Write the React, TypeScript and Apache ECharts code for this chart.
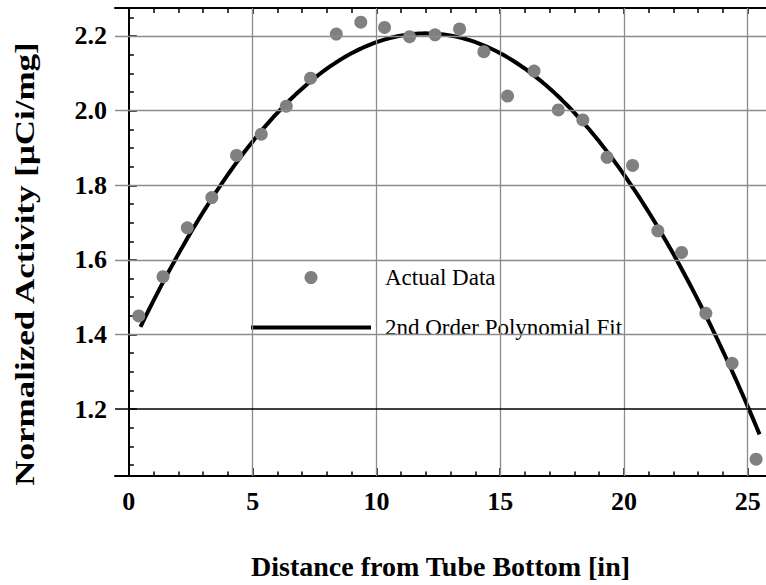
import React, { useEffect, useRef } from "react";
import * as echarts from "echarts";

// ---- data ----
const X_VALUES = [0.4, 1.38, 2.36, 3.35, 4.35, 5.35, 6.36, 7.34, 8.38, 9.37, 10.33, 11.34, 12.37, 13.36, 14.34, 15.3, 16.37, 17.35, 18.34, 19.32, 20.35, 21.37, 22.33, 23.31, 24.37, 25.34];
const Y_VALUES = [1.45, 1.555, 1.686, 1.767, 1.88, 1.937, 2.012, 2.087, 2.205, 2.237, 2.223, 2.198, 2.203, 2.219, 2.158, 2.039, 2.106, 2.002, 1.975, 1.875, 1.853, 1.678, 1.62, 1.457, 1.323, 1.066];

// 2nd order polynomial fit: c0 + c1*x + c2*x^2, drawn over [FIT_START, FIT_END]
const FIT_COEFFS = [1.3554, 0.14194, -0.005914];
const FIT_START = 0.47;
const FIT_END = 25.48;

const X_MAJOR = [0, 5, 10, 15, 20, 25];
const X_MINOR = [1, 2, 3, 4, 6, 7, 8, 9, 11, 12, 13, 14, 16, 17, 18, 19, 21, 22, 23, 24];
const Y_MAJOR = [1.2, 1.4, 1.6, 1.8, 2.0, 2.2];
const Y_MINOR = [1.05, 1.1, 1.15, 1.25, 1.3, 1.35, 1.45, 1.5, 1.55, 1.65, 1.7, 1.75, 1.85, 1.9, 1.95, 2.05, 2.1, 2.15, 2.25];
const GRID_X = [5, 10, 15, 20, 25];
const GRID_Y = [1.2, 1.4, 1.6, 1.8, 2.0, 2.2];

const SERIES_DATA = "Actual Data";
const SERIES_FIT = "2nd Order Polynomial Fit";
const X_TITLE = "Distance from Tube Bottom [in]";
const Y_TITLE = "Normalized Activity [μCi/mg]";

const X_MIN = -0.56;
const X_MAX = 25.74;
const Y_MIN = 1.021;
const Y_MAX = 2.275;

const FONT = '"Liberation Serif", "Times New Roman", serif';

export default function App() {
  const ref = useRef<HTMLDivElement>(null);

  useEffect(() => {
    if (!ref.current) return;
    const chart = echarts.init(ref.current, undefined, { renderer: "svg" });

    const scatterData = X_VALUES.map((x, i) => [x, Y_VALUES[i]]);
    const fitData: number[][] = [];
    const steps = 200;
    for (let i = 0; i <= steps; i++) {
      const x = FIT_START + ((FIT_END - FIT_START) * i) / steps;
      fitData.push([x, FIT_COEFFS[0] + FIT_COEFFS[1] * x + FIT_COEFFS[2] * x * x]);
    }

    const black = "#000";
    const baseX = { type: "value", min: X_MIN, max: X_MAX, splitLine: { show: false } };
    const baseY = { type: "value", min: Y_MIN, max: Y_MAX, splitLine: { show: false } };

    chart.setOption({
      animation: false,
      backgroundColor: "#fff",
      grid: { left: 115, top: 8, width: 655, height: 468, containLabel: false },
      xAxis: [
        {
          ...baseX,
          position: "bottom",
          name: X_TITLE,
          nameLocation: "middle",
          nameGap: 76,
          nameTextStyle: { fontFamily: FONT, fontSize: 28, fontWeight: "bold", color: black },
          axisLine: { show: true, lineStyle: { color: black, width: 2 } },
          axisTick: { show: true, inside: true, length: 8, customValues: X_MAJOR, lineStyle: { color: black, width: 1.5 } },
          axisLabel: {
            show: true,
            customValues: X_MAJOR,
            margin: 12,
            fontFamily: FONT,
            fontSize: 26,
            fontWeight: "bold",
            color: black,
          },
        },
        {
          ...baseX,
          position: "bottom",
          axisLine: { show: false },
          axisTick: { show: true, inside: true, length: 4.5, customValues: X_MINOR, lineStyle: { color: black, width: 1.5 } },
          axisLabel: { show: false },
        },
        {
          ...baseX,
          position: "top",
          axisLine: { show: true, lineStyle: { color: black, width: 2 } },
          axisTick: { show: true, inside: true, length: 6, customValues: X_MAJOR, lineStyle: { color: black, width: 1.5 } },
          axisLabel: { show: false },
        },
        {
          ...baseX,
          position: "top",
          axisLine: { show: false },
          axisTick: { show: true, inside: true, length: 5, customValues: X_MINOR, lineStyle: { color: black, width: 1.5 } },
          axisLabel: { show: false },
        },
      ],
      yAxis: [
        {
          ...baseY,
          position: "left",
          axisLine: { show: true, lineStyle: { color: black, width: 2 } },
          axisTick: { show: true, inside: true, length: 8, customValues: Y_MAJOR, lineStyle: { color: black, width: 1.5 } },
          axisLabel: {
            show: true,
            customValues: Y_MAJOR,
            margin: 8,
            formatter: (v: number) => v.toFixed(1),
            fontFamily: FONT,
            fontSize: 26,
            fontWeight: "bold",
            color: black,
          },
        },
        {
          ...baseY,
          position: "left",
          axisLine: { show: false },
          axisTick: { show: true, inside: true, length: 5, customValues: Y_MINOR, lineStyle: { color: black, width: 1.5 } },
          axisLabel: { show: false },
        },
      ],
      legend: {
        orient: "vertical",
        left: 246,
        top: 261,
        itemWidth: 120,
        itemHeight: 13,
        itemGap: 27,
        data: [
          { name: SERIES_DATA, icon: "circle" },
          { name: SERIES_FIT, icon: "path://M0 0H120V4H0Z", itemStyle: { color: black } },
        ],
        textStyle: { fontFamily: FONT, fontSize: 23, color: black, padding: [0, 0, 0, 9] },
      },
      graphic: [
        {
          type: "text",
          x: 25,
          y: 264,
          rotation: Math.PI / 2,
          scaleX: 1.25,
          style: {
            text: Y_TITLE,
            fontFamily: FONT,
            fontSize: 28,
            fontWeight: "bold",
            fill: black,
            align: "center",
            verticalAlign: "middle",
          },
        },
      ],
      series: [
        {
          name: "grid",
          type: "line",
          data: [],
          z: 1,
          silent: true,
          markLine: {
            silent: true,
            symbol: ["none", "none"],
            label: { show: false },
            lineStyle: { color: "#8c8c8c", width: 1.3, type: "solid" },
            data: [
              ...GRID_X.map((v) => ({ xAxis: v })),
              ...GRID_Y.map((v) =>
                v === 1.2 ? { yAxis: v, lineStyle: { color: black, width: 1.5, type: "solid" } } : { yAxis: v }
              ),
            ],
          },
        },
        {
          name: SERIES_FIT,
          type: "line",
          data: fitData,
          symbol: "none",
          smooth: false,
          z: 3,
          lineStyle: { color: black, width: 4 },
          itemStyle: { color: black },
        },
        {
          name: SERIES_DATA,
          type: "scatter",
          data: scatterData,
          symbol: "circle",
          symbolSize: 13,
          z: 4,
          itemStyle: { color: "#808080", opacity: 1 },
        },
      ],
    });

    return () => chart.dispose();
  }, []);

  return (
    <div
      ref={ref}
      style={{ position: "fixed", left: 0, top: 0, width: 766, height: 585, background: "#fff" }}
    />
  );
}
